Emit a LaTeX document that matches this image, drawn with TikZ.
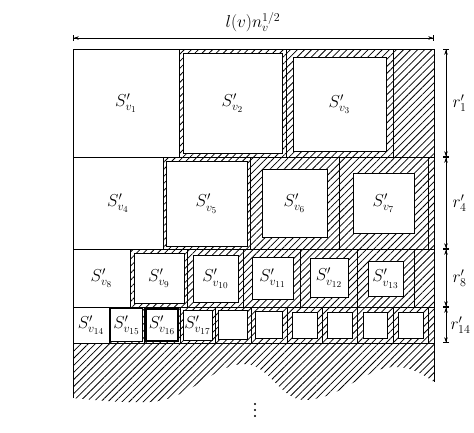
\documentclass[tikz,border=0pt]{standalone}
\usetikzlibrary{patterns.meta,arrows.meta}
\begin{document}
\begin{tikzpicture}[x=1pt,y=-1pt,
  hatch/.style={pattern={Lines[angle=45,distance=5pt,line width=0.8pt]}},
  gridline/.style={line width=1pt},
  sq/.style={draw,line width=1pt,fill=white,inner sep=0pt,outer sep=0pt},
  lbl/.style={font=\fontsize{18}{20}\selectfont},
  dotmark/.style={circle,fill,inner sep=0pt,minimum size=2.4pt},
  dim/.style={line width=0.7pt,{Bar[width=6pt]Stealth[length=5pt,width=3.5pt]}-{Stealth[length=5pt,width=3.5pt]Bar[width=6pt]}}
]
\useasboundingbox (0,0) rectangle (474,432);

% hatched free space in every row and below the last row
\fill[hatch] (179,49) rectangle (434,157);
\fill[hatch] (163,157) rectangle (434,249);
\fill[hatch] (130,249) rectangle (434,307);
\fill[hatch] (109,307) rectangle (434,343);
\fill[hatch] (73,343) -- (434,343) -- (434,382)
  .. controls (420,372) and (405,364) .. (385,368)
  .. controls (360,374) and (335,400) .. (305,400)
  .. controls (280,400) and (270,365) .. (245,364)
  .. controls (215,363) and (190,400) .. (150,402)
  .. controls (120,403) and (95,400) .. (73,398) -- cycle;

% outer frame and row separators
\draw[gridline] (73,398) -- (73,49) -- (434,49) -- (434,382);
\foreach \y in {157,249,307,343}
  \draw[gridline] (73,\y) -- (434,\y);
% cell separators
\foreach \x in {179,286,393}
  \draw[gridline] (\x,49) -- (\x,157);
\foreach \x in {163,250,339,428}
  \draw[gridline] (\x,157) -- (\x,249);
\foreach \x in {130,187,243,300,357,414}
  \draw[gridline] (\x,249) -- (\x,307);
\foreach \x in {109,144,180,215,251,287,322,357,393,428}
  \draw[gridline] (\x,307) -- (\x,343);

% squares that fill their cells
\node[lbl] (v1) at (126,103) {$S'_{v_1}$};
\node[lbl] (v4) at (118,203) {$S'_{v_4}$};
\node[lbl] (v8) at (101.5,278) {$S'_{v_8}$};
\node[lbl] (v14) at (91,325) {$S'_{v_{14}}$};

% squares inside hatched cells
\node[sq,lbl,minimum width=99,minimum height=100] (v2) at (232.5,103) {$S'_{v_2}$};
\node[sq,lbl,minimum width=93,minimum height=94] (v3) at (339.5,104) {$S'_{v_3}$};
\node[sq,lbl,minimum width=81,minimum height=85] (v5) at (206.5,203.5) {$S'_{v_5}$};
\node[sq,lbl,minimum width=65,minimum height=68] (v6) at (294.5,203) {$S'_{v_6}$};
\node[sq,lbl,minimum width=61,minimum height=60] (v7) at (383.5,203) {$S'_{v_7}$};
\node[sq,lbl,minimum width=50,minimum height=50] (v9) at (159,278) {$S'_{v_9}$};
\node[sq,lbl,minimum width=45,minimum height=47] (v10) at (215.5,278.5) {$S'_{v_{10}}$};
\node[sq,lbl,minimum width=41,minimum height=42] (v11) at (272.5,278) {$S'_{v_{11}}$};
\node[sq,lbl,minimum width=38,minimum height=39] (v12) at (329,277.5) {$S'_{v_{12}}$};
\node[sq,lbl,minimum width=35,minimum height=35] (v13) at (385.5,278.5) {$S'_{v_{13}}$};
\node[sq,lbl,minimum width=32,minimum height=33,line width=1.6pt] (v15) at (126.5,325) {$S'_{v_{15}}$};
\node[sq,lbl,minimum width=32,minimum height=32,line width=1.4pt] (v16) at (162,325) {$S'_{v_{16}}$};
\node[sq,lbl,minimum width=29,minimum height=30] (v17) at (197.5,325) {$S'_{v_{17}}$};
\node[sq,minimum width=29,minimum height=29] (e1) at (233,325) {};
\node[sq,minimum width=27,minimum height=27] (e2) at (269,325) {};
\node[sq,minimum width=25,minimum height=26] (e3) at (304.5,325) {};
\node[sq,minimum width=25,minimum height=26] (e4) at (339.5,325) {};
\node[sq,minimum width=24,minimum height=26] (e5) at (375,325) {};
\node[sq,minimum width=25,minimum height=26] (e6) at (410.5,325) {};

% width dimension
\coordinate (wl) at (73,38);
\coordinate (wr) at (434,38);
\draw[dim] (wl) -- (wr);
\node[lbl] (wlab) at (253,22) {$l(v)n_v^{1/2}$};

% row height dimensions
\coordinate (h0) at (446,49);
\coordinate (h1) at (446,157);
\coordinate (h2) at (446,249);
\coordinate (h3) at (446,307);
\coordinate (h4) at (446,343);
\draw[dim] (h0) -- (h1);
\draw[dim] (h1) -- (h2);
\draw[dim] (h2) -- (h3);
\draw[dim] (h3) -- (h4);
\node[lbl,anchor=west] (r1) at (449,103) {$r'_1$};
\node[lbl,anchor=west] (r4) at (449,203) {$r'_4$};
\node[lbl,anchor=west] (r8) at (449,278) {$r'_8$};
\node[lbl,anchor=west] (r14) at (447,325) {$r'_{14}$};

% continuation dots
\node[dotmark] (d1) at (255,404) {};
\node[dotmark] (d2) at (255,410) {};
\node[dotmark] (d3) at (255,416) {};
\end{tikzpicture}
\end{document}
